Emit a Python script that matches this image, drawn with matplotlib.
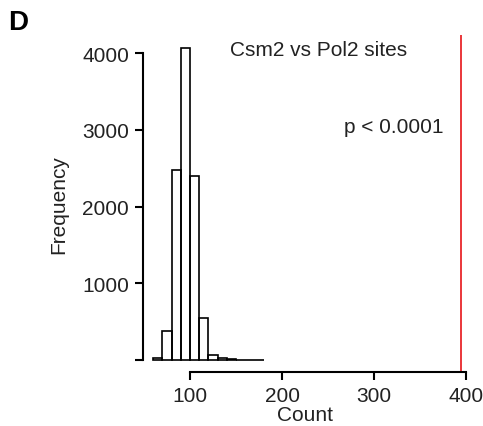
"""Permutation histogram: Csm2 vs Pol2 site overlap (panel D)."""
import matplotlib
matplotlib.use("Agg")
import matplotlib.pyplot as plt

# histogram of randomized overlap counts (bin left edges, width 10)
BIN_LEFT = [60, 70, 80, 90, 100, 110, 120, 130, 140, 150, 160, 170]
FREQ = [20, 380, 2470, 4060, 2400, 545, 65, 30, 15, 6, 3, 2]
BIN_W = 10
OBSERVED = 394                      # observed Csm2/Pol2 overlap
X_TICKS = [100, 200, 300, 400]
Y_TICKS = [0, 1000, 2000, 3000, 4000]
Y_LABELS = ["", "1000", "2000", "3000", "4000"]

plt.rcParams.update({"font.family": ["Liberation Sans", "DejaVu Sans"],
                     "font.size": 15})
fig = plt.figure(figsize=(4.83, 4.27), dpi=100)
ax = fig.add_axes([0.296, 0.1265, 0.673, 0.789])

ax.bar(BIN_LEFT, FREQ, width=BIN_W, align="edge", fill=False,
       edgecolor="black", linewidth=1.2)
ax.axvline(OBSERVED, color="#e8262b", lw=1.3)

ax.set_xlim(49, 402)
ax.set_ylim(-156, 4234)
for side in ("top", "right"):
    ax.spines[side].set_visible(False)
ax.spines["left"].set_bounds(0, 4000)
ax.spines["bottom"].set_bounds(100, 400)
for side in ("left", "bottom"):
    ax.spines[side].set_linewidth(1.5)
ax.set_xticks(X_TICKS)
ax.set_yticks(Y_TICKS, Y_LABELS)
ax.tick_params(direction="out", length=6, width=1.5, colors="black",
               labelcolor="#222222", pad=4)

ax.set_xlabel("Count", labelpad=0, color="#222222")
ax.set_ylabel("Frequency", labelpad=10, color="#222222")

ax.text(143.5, 4052, "Csm2 vs Pol2 sites", ha="left", va="center",
        color="#222222")
ax.text(375, 3049, "p < 0.0001", ha="right", va="center", color="#222222")
fig.text(0.017, 0.945, "D", fontsize=20, fontweight="bold", va="center")

fig.savefig("out.png", dpi=100)
